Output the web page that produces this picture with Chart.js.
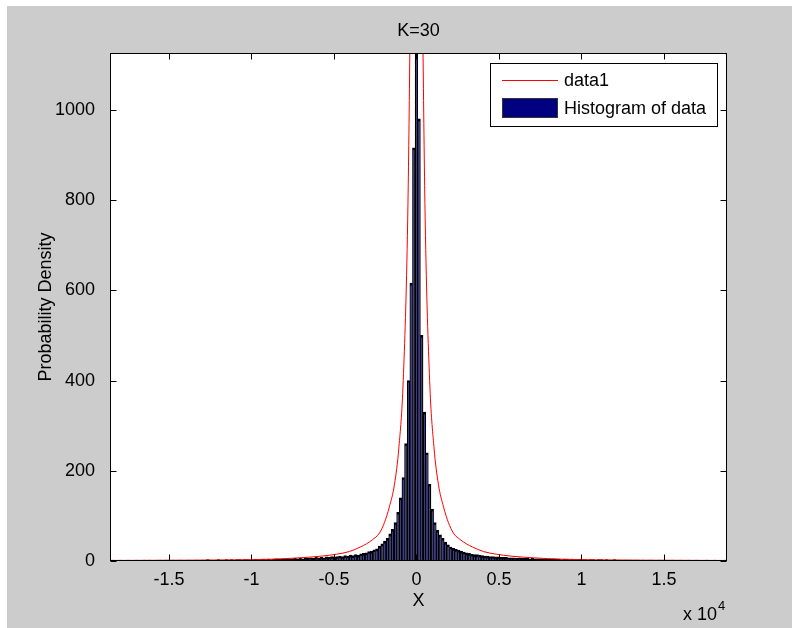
<!DOCTYPE html>
<html>
<head>
<meta charset="utf-8">
<script src="https://cdn.jsdelivr.net/npm/chart.js@4.4.1/dist/chart.umd.min.js"></script>
<style>
  body { margin: 0; background: #ffffff; }
  #wrap { width: 792px; height: 628px; }
</style>
</head>
<body>
<div id="wrap"><canvas id="myChart" width="792" height="628"></canvas></div>
<script>
// histogram bins: width 160, first bin centred at -18560
const binWidth = 160;
const firstBinCenter = -18560;
const binCounts = [
  1, 2, 1, 1, 2, 1, 1, 2, 1, 1,
  2, 1, 1, 2, 1, 2, 1, 1, 2, 2,
  1, 2, 2, 1, 2, 1, 2, 2, 1, 2,
  2, 1, 2, 2, 1, 2, 2, 3, 2, 1,
  2, 3, 2, 2, 3, 2, 3, 2, 3, 3,
  2, 3, 3, 2, 3, 4, 3, 3, 4, 3,
  4, 3, 4, 5, 4, 4,
  5, 4, 5, 5, 6, 5, 6, 5, 7, 6,
  7, 6, 8, 7, 8, 7, 9, 8, 10, 9,
  10, 11, 10, 12, 11, 13, 12, 14, 13, 16,
  17, 18, 21, 22, 25, 27, 33, 38, 44, 50,
  60, 70, 85, 108, 140, 185, 260, 400, 616, 916,
  1400,
  980, 500, 330, 240, 170, 115, 85, 68, 58, 50,
  42, 36, 31, 28, 26, 24, 22, 20, 18, 17,
  15, 14, 14, 13, 12, 11, 11, 10, 10, 9,
  9, 8, 8, 8, 7, 7, 7, 6, 7, 6,
  6, 6, 5, 6, 5, 5, 5, 4, 5, 4,
  4, 5, 4, 4, 3, 4, 4, 3, 4, 3,
  3, 4, 3, 3, 2, 3, 3, 2, 3, 3,
  2, 3, 2, 2, 3, 2, 2, 1, 2, 2,
  2, 1, 2, 2, 1, 2, 1, 2, 2, 1,
  1, 2, 1, 2, 1, 1, 2, 1, 1, 2,
  1, 1, 2, 1, 1, 2, 1, 1, 1, 2,
  1, 1, 2, 1, 1, 1, 2
];

// fitted density curve (data1)
const curveX = [-18900, -13900, -10900, -8800, -7100, -5700, -4850, -4060, -3400, -3030, -2670,
  -2240, -1940, -1640, -1330, -1060, -800, -530, -400, -300, -150, 0,
  150, 300, 400, 530, 800, 1060, 1330, 1640, 1940, 2240, 2670,
  3030, 3400, 4060, 4850, 5700, 7100, 8800, 10900, 13900, 18900];
const curveY = [1.2, 1.8, 2.5, 4, 7, 11, 15, 21, 31, 38, 47,
  62, 85, 120, 170, 253, 400, 756, 1126, 1500, 2200, 2700,
  2200, 1500, 1126, 756, 400, 253, 170, 120, 85, 62, 47,
  38, 31, 21, 15, 11, 7, 4, 2.5, 1.8, 1.2];

const xTicks = [-15000, -10000, -5000, 0, 5000, 10000, 15000];
const yTicks = [0, 200, 400, 600, 800, 1000];

const FONT = "'Liberation Sans', Arial, sans-serif";
Chart.defaults.font.family = FONT;
Chart.defaults.color = '#000000';

const histData = binCounts.map((c, i) => ({ x: firstBinCenter + i * binWidth, y: c }));
const curveData = curveX.map((x, i) => ({ x: x, y: curveY[i] }));

// grey figure, white axes, box with inward ticks, title, legend, exponent
const matlabLook = {
  id: 'matlabLook',
  beforeDraw(chart) {
    const { ctx, chartArea: a } = chart;
    ctx.save();
    ctx.fillStyle = '#cccccc';
    ctx.fillRect(7, 6, chart.width - 7, chart.height - 6);
    ctx.fillStyle = '#ffffff';
    ctx.fillRect(a.left, a.top, a.right - a.left, a.bottom - a.top);
    ctx.restore();
  },
  afterDatasetsDraw(chart) {
    const { ctx, chartArea: a, scales } = chart;
    const L = Math.round(a.left) + 0.5, R = Math.round(a.right) - 0.5;
    const T = Math.round(a.top) + 0.5, B = Math.round(a.bottom) - 0.5;
    ctx.save();
    ctx.strokeStyle = '#000000';
    ctx.lineWidth = 1;
    ctx.beginPath();
    scales.x.ticks.forEach(t => {
      const px = Math.round(scales.x.getPixelForValue(t.value)) + 0.5;
      ctx.moveTo(px, B); ctx.lineTo(px, B - 6);
      ctx.moveTo(px, T); ctx.lineTo(px, T + 6);
    });
    scales.y.ticks.forEach(t => {
      const py = Math.round(scales.y.getPixelForValue(t.value)) + 0.5;
      ctx.moveTo(L, py); ctx.lineTo(L + 6, py);
      ctx.moveTo(R, py); ctx.lineTo(R - 6, py);
    });
    ctx.stroke();
    ctx.strokeRect(L, T, R - L, B - T);

    // legend
    const ds = chart.data.datasets;
    ctx.fillStyle = '#ffffff';
    ctx.fillRect(490, 63, 227, 63);
    ctx.strokeRect(490.5, 63.5, 227, 63);
    ctx.strokeStyle = ds[0].borderColor;
    ctx.beginPath();
    ctx.moveTo(502, 80.5); ctx.lineTo(558, 80.5);
    ctx.stroke();
    ctx.fillStyle = ds[1].backgroundColor;
    ctx.fillRect(502, 98, 56, 20);
    ctx.strokeStyle = '#333333';
    ctx.strokeRect(502.5, 98.5, 55, 19);
    ctx.fillStyle = '#000000';
    ctx.font = '18px ' + FONT;
    ctx.textBaseline = 'middle';
    ctx.textAlign = 'left';
    ctx.fillText(ds[0].label, 564, 81);
    ctx.fillText(ds[1].label, 564, 109);
    ctx.restore();
  },
  afterDraw(chart) {
    const { ctx, chartArea: a } = chart;
    ctx.save();
    ctx.fillStyle = '#000000';
    ctx.font = '18px ' + FONT;
    ctx.textAlign = 'center';
    ctx.textBaseline = 'middle';
    ctx.fillText('K=30', (a.left + a.right) / 2, 31);
    ctx.textBaseline = 'alphabetic';
    ctx.textAlign = 'left';
    ctx.fillText('x 10', 683, 620);
    const w = ctx.measureText('x 10').width;
    ctx.font = '13px ' + FONT;
    ctx.fillText('4', 683 + w + 1, 610);
    ctx.restore();
  }
};

const config = {
  type: 'bar',
  data: {
    datasets: [
      {
        type: 'line',
        label: 'data1',
        data: curveData,
        borderColor: '#ff0000',
        borderWidth: 1,
        pointRadius: 0,
        cubicInterpolationMode: 'monotone',
        order: 0
      },
      {
        type: 'bar',
        label: 'Histogram of data',
        data: histData,
        backgroundColor: '#000080',
        borderColor: '#000000',
        borderWidth: 2,
        barPercentage: 1,
        categoryPercentage: 1,
        order: 1
      }
    ]
  },
  options: {
    responsive: false,
    animation: false,
    layout: { padding: { left: 0, top: 53, right: 65, bottom: 0 } },
    plugins: {
      legend: { display: false },
      tooltip: { enabled: false },
      title: { display: false }
    },
    scales: {
      x: {
        type: 'linear',
        offset: false,
        min: -18570,
        max: 18820,
        grid: { display: false, offset: false },
        border: { display: false },
        ticks: {
          font: { size: 18 },
          color: '#000000',
          padding: 0,
          maxRotation: 0,
          autoSkip: false,
          callback: v => String(v / 10000)
        },
        afterBuildTicks: s => { s.ticks = xTicks.map(v => ({ value: v })); },
        afterFit: s => { s.height = 67; },
        title: {
          display: true,
          text: 'X',
          color: '#000000',
          font: { size: 18 },
          padding: { top: 0, bottom: 16 }
        }
      },
      y: {
        min: 0,
        max: 1126,
        grid: { display: false },
        border: { display: false },
        ticks: { font: { size: 18 }, color: '#000000', padding: 7, callback: v => String(v) },
        afterBuildTicks: s => { s.ticks = yTicks.map(v => ({ value: v })); },
        afterFit: s => { s.width = 110; },
        title: {
          display: true,
          text: 'Probability Density',
          color: '#000000',
          font: { size: 18 },
          padding: { top: 35, bottom: 0 }
        }
      }
    }
  },
  plugins: [matlabLook]
};

const myChart = new Chart(document.getElementById('myChart'), config);
</script>
</body>
</html>
